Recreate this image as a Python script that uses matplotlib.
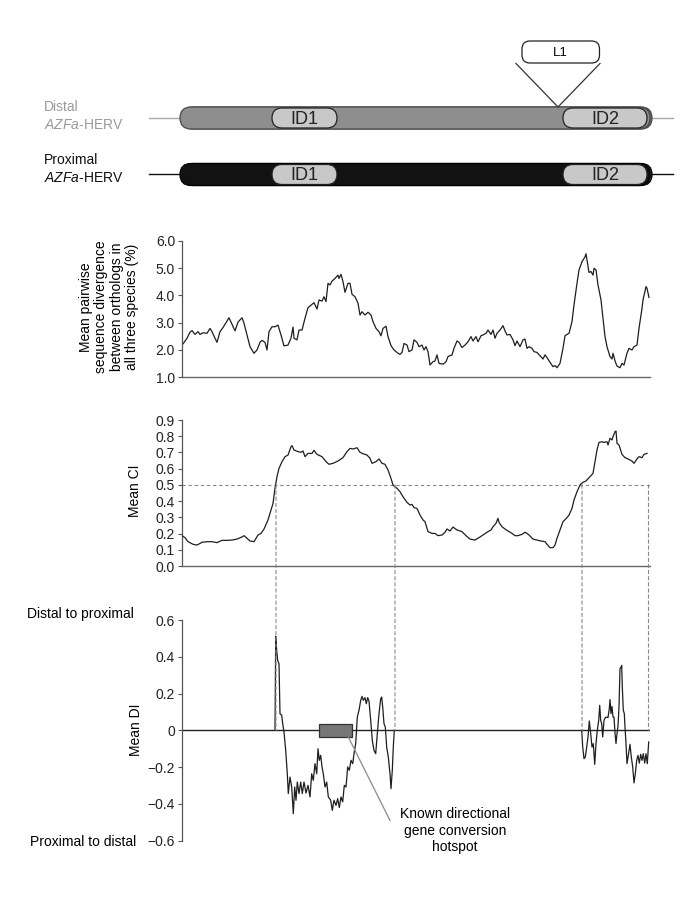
import matplotlib
matplotlib.use("Agg")
import matplotlib.pyplot as plt
from matplotlib.patches import FancyBboxPatch, Rectangle, ConnectionPatch

plt.rcParams['font.family'] = ['Liberation Sans', 'DejaVu Sans']
plt.rcParams['mathtext.fontset'] = 'custom'
plt.rcParams['mathtext.it'] = 'Liberation Sans:italic'
plt.rcParams['mathtext.rm'] = 'Liberation Sans'

# ---------------- data (window positions along the HERV alignment) ----------------
div_pos = [0, 1, 5, 8, 10, 13, 16, 18, 21, 25, 28, 30, 33, 35, 38, 41, 45, 47, 50, 53,
           56, 60, 62, 65, 68, 72, 75, 78, 80, 83, 85, 87, 90, 93, 96, 99, 102, 106, 109, 111,
           112, 115, 117, 120, 123, 126, 130, 132, 135, 137, 140, 142, 144, 146, 148, 150, 153, 156, 157, 159,
           161, 163, 166, 168, 170, 173, 176, 178, 180, 183, 186, 189, 191, 194, 197, 199, 201, 204, 206, 209,
           212, 216, 218, 220, 222, 225, 227, 230, 232, 235, 237, 240, 242, 244, 246, 248, 251, 253, 255, 257,
           261, 264, 266, 270, 272, 275, 277, 280, 283, 286, 289, 291, 294, 296, 299, 301, 304, 306, 309, 311,
           313, 315, 318, 321, 323, 325, 328, 331, 333, 335, 338, 341, 343, 345, 347, 350, 352, 355, 358, 361,
           363, 365, 368, 371, 373, 375, 378, 381, 383, 385, 387, 390, 392, 395, 397, 400, 401, 403, 404, 405,
           407, 409, 411, 412, 414, 416, 419, 421, 423, 425, 428, 430, 431, 433, 435, 438, 440, 442, 445, 447,
           450, 452, 455, 457, 460, 461, 464, 465, 467]
div_val = [2.30, 2.22, 2.43, 2.65, 2.71, 2.57, 2.67, 2.57, 2.63, 2.61, 2.79, 2.67, 2.43, 2.28, 2.67, 2.82, 3.06, 3.18, 2.94, 2.70,
           3.02, 3.18, 2.98, 2.55, 2.12, 1.88, 2.00, 2.28, 2.35, 2.28, 2.00, 2.67, 2.85, 2.85, 2.91, 2.55, 2.15, 2.18, 2.43, 2.84,
           2.43, 2.37, 2.73, 2.73, 3.16, 3.55, 3.67, 3.73, 3.50, 3.83, 3.79, 3.95, 3.77, 4.44, 4.38, 4.52, 4.62, 4.74, 4.62, 4.77,
           4.50, 4.11, 4.44, 4.44, 4.04, 3.95, 3.71, 3.28, 3.40, 3.28, 3.38, 3.28, 3.04, 2.79, 2.67, 2.52, 2.79, 2.87, 2.49, 2.16,
           2.00, 1.88, 1.84, 1.91, 2.24, 2.18, 1.94, 2.00, 2.37, 2.28, 2.12, 2.18, 2.00, 2.12, 1.94, 1.45, 1.57, 1.60, 1.82, 1.51,
           1.48, 1.57, 1.76, 1.82, 2.06, 2.33, 2.28, 2.09, 2.18, 2.30, 2.49, 2.33, 2.49, 2.30, 2.52, 2.55, 2.61, 2.73, 2.57, 2.73,
           2.43, 2.61, 2.73, 2.89, 2.70, 2.55, 2.57, 2.37, 2.16, 2.33, 2.12, 2.37, 2.40, 2.06, 2.12, 2.06, 1.94, 1.91, 1.79, 1.67,
           1.82, 1.72, 1.55, 1.39, 1.43, 1.35, 1.51, 2.06, 2.52, 2.57, 2.61, 3.04, 3.65, 4.44, 4.93, 5.23, 5.29, 5.41, 5.52, 5.29,
           4.84, 4.87, 4.74, 4.99, 4.93, 4.38, 3.83, 3.16, 2.49, 2.12, 1.76, 1.67, 1.88, 1.60, 1.41, 1.35, 1.51, 1.45, 1.88, 2.06,
           2.00, 2.12, 2.18, 2.79, 3.52, 3.83, 4.32, 4.26, 3.92]

ci_pos = [0, 3, 6, 11, 15, 20, 25, 30, 35, 40, 45, 50, 55, 60, 62, 65, 68, 72, 76, 79,
          82, 86, 89, 91, 93, 95, 97, 100, 103, 106, 109, 110, 112, 116, 119, 121, 123, 126, 130, 132,
          135, 140, 144, 147, 151, 156, 161, 165, 168, 171, 175, 178, 181, 185, 188, 190, 194, 197, 200, 203,
          206, 209, 211, 215, 218, 221, 225, 228, 230, 232, 235, 238, 241, 243, 246, 250, 253, 256, 260, 263,
          265, 268, 271, 275, 280, 284, 288, 293, 297, 301, 305, 309, 311, 314, 316, 317, 320, 323, 326, 330,
          333, 336, 340, 343, 345, 347, 351, 355, 359, 363, 365, 368, 371, 373, 375, 378, 381, 385, 387, 390,
          392, 395, 398, 401, 404, 407, 411, 413, 415, 417, 420, 422, 425, 426, 428, 430, 431, 433, 434, 435,
          437, 440, 443, 446, 450, 452, 455, 457, 460, 462, 465]
ci_val = [0.187, 0.175, 0.150, 0.134, 0.129, 0.146, 0.150, 0.150, 0.144, 0.158, 0.158, 0.160, 0.166, 0.179, 0.187, 0.171, 0.154, 0.150, 0.191, 0.201,
          0.228, 0.284, 0.345, 0.386, 0.479, 0.551, 0.602, 0.643, 0.674, 0.684, 0.736, 0.742, 0.715, 0.705, 0.701, 0.709, 0.674, 0.694, 0.694, 0.713,
          0.688, 0.674, 0.643, 0.627, 0.633, 0.647, 0.668, 0.705, 0.725, 0.721, 0.729, 0.701, 0.692, 0.684, 0.664, 0.633, 0.643, 0.660, 0.633, 0.627,
          0.592, 0.540, 0.499, 0.479, 0.458, 0.427, 0.392, 0.376, 0.380, 0.360, 0.355, 0.314, 0.284, 0.273, 0.212, 0.201, 0.201, 0.187, 0.191, 0.208,
          0.228, 0.216, 0.240, 0.222, 0.212, 0.187, 0.166, 0.160, 0.175, 0.191, 0.208, 0.222, 0.242, 0.263, 0.294, 0.269, 0.242, 0.228, 0.216, 0.201,
          0.187, 0.187, 0.195, 0.208, 0.201, 0.191, 0.166, 0.160, 0.154, 0.150, 0.134, 0.113, 0.113, 0.129, 0.171, 0.222, 0.273, 0.298, 0.314, 0.355,
          0.407, 0.458, 0.499, 0.516, 0.524, 0.544, 0.571, 0.643, 0.715, 0.762, 0.766, 0.762, 0.766, 0.746, 0.787, 0.777, 0.797, 0.828, 0.832, 0.756,
          0.746, 0.688, 0.668, 0.660, 0.647, 0.633, 0.660, 0.674, 0.668, 0.688, 0.694]

ci_threshold = 0.5
ci_cross_pos = [94, 213, 400, 466.5]

di1_pos = [93, 93.7, 94.7, 95.7, 97, 98, 99.7, 100.7, 102, 103.7, 105.3, 106.3, 108, 109.7, 111.3, 112.7, 114, 115.3, 117, 118.7,
           120.3, 122, 124, 126, 128, 129.7, 131.3, 133, 134.7, 136, 137.3, 138.7, 140, 141.3, 143, 144.7, 146.3, 148.7, 150.3, 152,
           154, 155.7, 157.3, 159, 160.7, 162.3, 164, 165.7, 167.3, 169, 170.7, 172, 173.7, 175.3, 177, 178.7, 180, 181.3, 183, 184.3,
           185.7, 187, 188.7, 190.3, 192, 193.7, 195.3, 197, 198.7, 199.7, 200.7, 202, 203.3, 204.7, 206.3, 208, 209, 210.3, 211.3, 212.3]
di1_val = [0.0, 0.511, 0.435, 0.380, 0.362, 0.091, 0.082, 0.036, -0.009, -0.109, -0.236, -0.344, -0.254, -0.308, -0.453, -0.308, -0.380, -0.281, -0.344, -0.281,
           -0.344, -0.281, -0.341, -0.299, -0.362, -0.236, -0.272, -0.181, -0.236, -0.100, -0.163, -0.136, -0.199, -0.236, -0.308, -0.281, -0.362, -0.380, -0.435, -0.380,
           -0.408, -0.371, -0.420, -0.362, -0.389, -0.299, -0.308, -0.199, -0.217, -0.163, -0.181, -0.127, -0.072, 0.072, 0.109, 0.163, 0.185, 0.163, 0.178, 0.145,
           0.178, 0.159, 0.054, -0.054, -0.109, -0.127, -0.018, 0.091, 0.172, 0.181, 0.127, 0.036, 0.018, -0.091, -0.145, -0.236, -0.317, -0.217, -0.091, 0.0]

di2_pos = [399.7, 400.7, 402, 403.3, 404.7, 406, 407.3, 408.7, 410, 411.3, 412.7, 414, 415.3, 416.7, 417.7, 418.7, 419.7, 420.7, 422, 423.3,
           424.7, 426, 427.3, 428, 429, 430, 431, 432, 433, 434, 435, 436, 437, 438, 439, 439.7, 440.3, 441.3, 442.3, 443,
           444, 445, 446.3, 448, 449.3, 450.7, 452, 453.3, 454.7, 456, 457.3, 458.7, 460, 461.3, 462.7, 464, 465.3, 466.7]
di2_val = [0.0, -0.091, -0.154, -0.145, -0.091, -0.036, 0.051, -0.018, -0.091, -0.072, -0.185, -0.072, 0.0, 0.054, 0.136, 0.054, 0.036, -0.036, 0.054, 0.069,
           0.072, 0.069, 0.118, 0.167, 0.091, 0.130, 0.072, 0.072, -0.014, -0.072, -0.018, 0.022, 0.127, 0.335, 0.344, 0.353, 0.236, 0.109, 0.091, 0.018,
           -0.072, -0.181, -0.136, -0.076, -0.145, -0.199, -0.286, -0.236, -0.163, -0.136, -0.178, -0.130, -0.163, -0.127, -0.178, -0.127, -0.181, -0.063]

hotspot_span = (137.3, 169.7)

div_ticks = [1, 2, 3, 4, 5, 6]
div_ticklabels = ["1.0", "2.0", "3.0", "4.0", "5.0", "6.0"]
ci_ticks = [0.0, 0.1, 0.2, 0.3, 0.4, 0.5, 0.6, 0.7, 0.8, 0.9]
ci_ticklabels = ["0.0", "0.1", "0.2", "0.3", "0.4", "0.5", "0.6", "0.7", "0.8", "0.9"]
di_ticks = [-0.6, -0.4, -0.2, 0, 0.2, 0.4, 0.6]
di_ticklabels = ["\u22120.6", "\u22120.4", "\u22120.2", "0", "0.2", "0.4", "0.6"]

# HERV diagram features (same position units)
herv_span = (-2, 468)
flank_span = (-33, 491)
id1_span = (90, 155)
id2_span = (381, 465)
l1_insert = 376
l1_box = (340, 417.5)

# ---------------- figure ----------------
W, H = 685, 897
fig = plt.figure(figsize=(W / 100, H / 100), dpi=100)


def rect(left, top, right, bottom):
    return [left / W, 1 - bottom / H, (right - left) / W, (bottom - top) / H]


XMAX = 467.5
LINE = '#1e1e1e'
AX_C = '#555555'
DASH = (0, (3, 2.5))

# --- diagram ---
ax0 = fig.add_axes(rect(0, 30, W, 200))
ax0.set_xlim(-182, W - 182)
ax0.set_ylim(200, 30)
ax0.axis('off')


def pill(x0, x1, yc, h, fc, ec, lw=0.9, z=2):
    p = FancyBboxPatch((x0, yc - h / 2), x1 - x0, h,
                       boxstyle=f"round,pad=0,rounding_size={h / 2}",
                       fc=fc, ec=ec, lw=lw, zorder=z)
    ax0.add_patch(p)


for yc, bar_fc, bar_ec, flank_c in [(118, '#8e8e8e', '#4a4a4a', '#a8a8a8'),
                                     (174.5, '#121212', '#000000', '#111111')]:
    ax0.plot([flank_span[0], herv_span[0] + 5], [yc, yc], color=flank_c, lw=1.0, zorder=1)
    ax0.plot([herv_span[1] - 5, flank_span[1]], [yc, yc], color=flank_c, lw=1.0, zorder=1)
    pill(herv_span[0] + 2, herv_span[1] + 2, yc, 22, '#3c3c3c' if yc > 150 else '#6a6a6a', bar_ec, z=2)
    pill(herv_span[0], herv_span[1], yc, 22, bar_fc, bar_ec, z=3)
    pill(id1_span[0], id1_span[1], yc, 20, '#c8c8c8', '#222222', z=4)
    pill(id2_span[0], id2_span[1], yc, 20, '#c8c8c8', '#222222', z=4)
    ax0.text(sum(id1_span) / 2, yc + 1, "ID1", fontsize=13, ha='center', va='center', color='#222222', zorder=5)
    ax0.text(sum(id2_span) / 2, yc + 1, "ID2", fontsize=13, ha='center', va='center', color='#222222', zorder=5)

# L1 insertion
ax0.plot([l1_box[0] - 6, l1_insert, l1_box[1] + 0.5], [63.5, 107, 63.5], color='#333333', lw=0.9, zorder=6)
ax0.add_patch(FancyBboxPatch((l1_box[0], 41), l1_box[1] - l1_box[0], 22,
                             boxstyle="round,pad=0,rounding_size=8",
                             fc='white', ec='#222222', lw=0.9, zorder=7))
ax0.text(sum(l1_box) / 2, 52.5, "L1", fontsize=9.5, ha='center', va='center', zorder=8)

ax0.text(-138, 107, "Distal", fontsize=10, color='#9a9a9a', ha='left', va='center')
ax0.text(-138, 125, r"$\it{AZFa}$-HERV", fontsize=10, color='#9a9a9a', ha='left', va='center')
ax0.text(-138, 160, "Proximal", fontsize=10, color='#111111', ha='left', va='center')
ax0.text(-138, 178, r"$\it{AZFa}$-HERV", fontsize=10, color='#111111', ha='left', va='center')


def style_axis(ax, bottom=True):
    for s in ['top', 'right']:
        ax.spines[s].set_visible(False)
    ax.spines['left'].set_color(AX_C)
    ax.spines['left'].set_linewidth(0.9)
    if bottom:
        ax.spines['bottom'].set_color('#666666')
        ax.spines['bottom'].set_linewidth(1.0)
    else:
        ax.spines['bottom'].set_visible(False)
    ax.set_xticks([])
    ax.tick_params(axis='y', direction='out', length=3, width=0.8, color=AX_C,
                   pad=2, labelsize=10, labelcolor='#222222')
    ax.set_xlim(0, XMAX)
    ax.patch.set_alpha(0)


# --- divergence panel ---
ax1 = fig.add_axes(rect(182, 240.7, 182 + XMAX, 377.3))
style_axis(ax1)
ax1.plot(div_pos, div_val, color=LINE, lw=0.9)
ax1.set_ylim(1, 6)
ax1.set_yticks(div_ticks)
ax1.set_yticklabels(div_ticklabels)
fig.text(109 / W, 1 - 307 / H,
         "Mean pairwise\nsequence divergence\nbetween orthologs in\nall three species (%)",
         rotation=90, ha='center', va='center', fontsize=10, linespacing=1.15, multialignment='center')

# --- CI panel ---
ax2 = fig.add_axes(rect(182, 420, 182 + XMAX, 566))
style_axis(ax2)
ax2.plot(ci_pos, ci_val, color=LINE, lw=0.9, zorder=3)
ax2.axhline(ci_threshold, color='#888888', lw=0.8, linestyle=DASH, zorder=2)
ax2.set_ylim(0, 0.9)
ax2.set_yticks(ci_ticks)
ax2.set_yticklabels(ci_ticklabels)
fig.text(135 / W, 1 - 491 / H, "Mean CI", rotation=90, ha='center', va='center', fontsize=10)

# --- DI panel ---
ax3 = fig.add_axes(rect(182, 620, 182 + XMAX, 840.7))
style_axis(ax3, bottom=False)
ax3.axhline(0, color='#222222', lw=1.0, zorder=2)
ax3.plot(di1_pos, di1_val, color=LINE, lw=0.9, zorder=3)
ax3.plot(di2_pos, di2_val, color=LINE, lw=0.9, zorder=3)
ax3.set_ylim(-0.6, 0.6)
ax3.set_yticks(di_ticks)
ax3.set_yticklabels(di_ticklabels)
ax3.add_patch(Rectangle((hotspot_span[0], -0.035), hotspot_span[1] - hotspot_span[0], 0.068,
                        fc='#777777', ec='#333333', lw=0.9, zorder=4))
ax3.plot([hotspot_span[1] - 3.4, 208], [-0.036, -0.49], color='#8a8a8a', lw=0.9, zorder=4)
ax3.text(273, -0.545, "Known directional\ngene conversion\nhotspot", fontsize=10,
         ha='center', va='center', linespacing=1.2)
fig.text(136 / W, 1 - 730 / H, "Mean DI", rotation=90, ha='center', va='center', fontsize=10)
fig.text(134 / W, 1 - 614 / H, "Distal to proximal", ha='right', va='center', fontsize=10)
fig.text(136 / W, 1 - 842 / H, "Proximal to distal", ha='right', va='center', fontsize=10)

# dashed connectors where CI crosses 0.5
for xp in ci_cross_pos:
    con = ConnectionPatch(xyA=(xp, ci_threshold), coordsA=ax2.transData,
                          xyB=(xp, 0), coordsB=ax3.transData,
                          color='#888888', lw=0.8, linestyle=DASH, zorder=1)
    fig.add_artist(con)

fig.savefig("out.png", dpi=100)
